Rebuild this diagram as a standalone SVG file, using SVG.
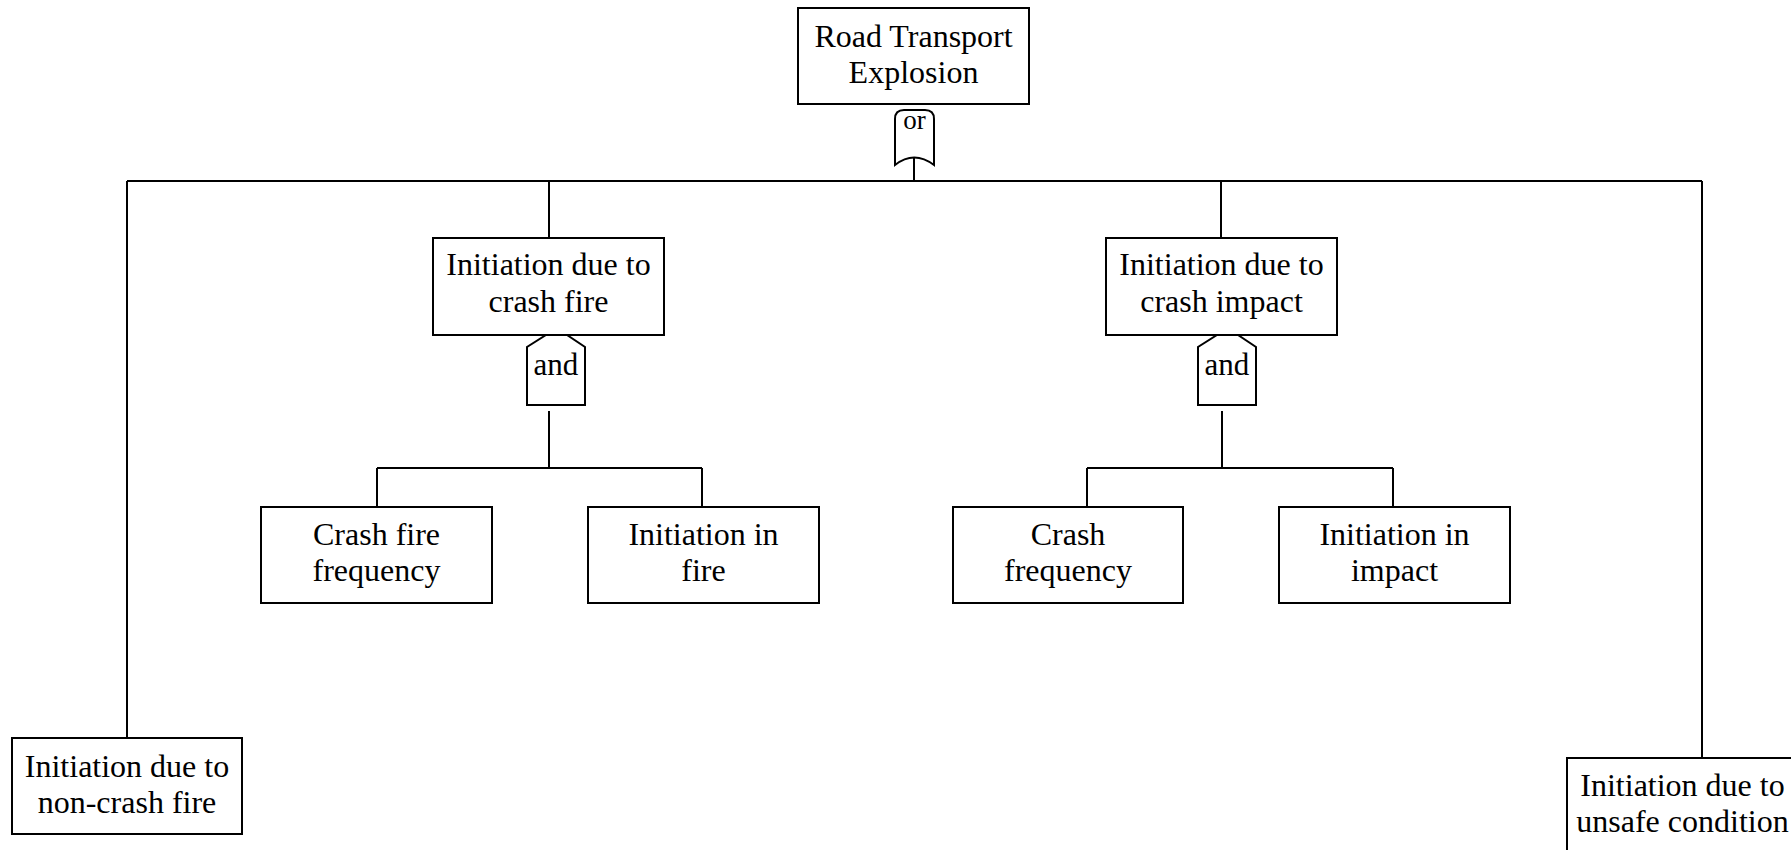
<svg xmlns="http://www.w3.org/2000/svg" width="1791" height="850" viewBox="0 0 1791 850">
<style>
.box{fill:#fff;stroke:#000;stroke-width:2}
.gate{fill:#fff;stroke:#000;stroke-width:2;stroke-linejoin:miter}
.ln{fill:none;stroke:#000;stroke-width:2}
text{font-family:"Liberation Serif","Times New Roman",serif;font-size:32px;fill:#000;text-anchor:middle}
.g{font-size:31px}
.o{font-size:27px}
</style>
<rect width="1791" height="850" fill="#fff"/>
<g id="connectors">
<path class="ln" d="M914,158 V181 M127,181 H1702 M127,181 V738 M1702,181 V758 M549,181 V238 M1221,181 V238"/>
<path class="ln" d="M549,411 V468 M377,468 H702 M377,468 V507 M702,468 V507"/>
<path class="ln" d="M1222,411 V468 M1087,468 H1393 M1087,468 V507 M1393,468 V507"/>
</g>
<g id="top">
<rect class="box" x="798" y="8" width="231" height="96"/>
<text x="913.5" y="47">Road Transport</text>
<text x="913.5" y="83">Explosion</text>
</g>
<g id="gate-or">
<path class="gate" d="M895,165 V119 Q895,110 904,110 H925 Q934,110 934,119 V165 Q914,150 895,165 Z"/>
<text class="o" x="914.5" y="129">or</text>
</g>
<g id="crash-fire">
<rect class="box" x="433" y="238" width="231" height="97"/>
<text x="548.5" y="275">Initiation due to</text>
<text x="548.5" y="312">crash fire</text>
</g>
<g id="gate-and-1">
<path class="gate" d="M546,335 H567 L585,347 V405 H527 V347 Z"/>
<text class="g" x="556" y="375">and</text>
</g>
<g id="crash-impact">
<rect class="box" x="1106" y="238" width="231" height="97"/>
<text x="1221.5" y="275">Initiation due to</text>
<text x="1221.5" y="312">crash impact</text>
</g>
<g id="gate-and-2">
<path class="gate" d="M1217,335 H1238 L1256,347 V405 H1198 V347 Z"/>
<text class="g" x="1227" y="375">and</text>
</g>
<g id="crash-fire-frequency">
<rect class="box" x="261" y="507" width="231" height="96"/>
<text x="376.5" y="545">Crash fire</text>
<text x="376.5" y="581">frequency</text>
</g>
<g id="initiation-in-fire">
<rect class="box" x="588" y="507" width="231" height="96"/>
<text x="703.5" y="545">Initiation in</text>
<text x="703.5" y="581">fire</text>
</g>
<g id="crash-frequency">
<rect class="box" x="953" y="507" width="230" height="96"/>
<text x="1068" y="545">Crash</text>
<text x="1068" y="581">frequency</text>
</g>
<g id="initiation-in-impact">
<rect class="box" x="1279" y="507" width="231" height="96"/>
<text x="1394.5" y="545">Initiation in</text>
<text x="1394.5" y="581">impact</text>
</g>
<g id="non-crash-fire">
<rect class="box" x="12" y="738" width="230" height="96"/>
<text x="127" y="777">Initiation due to</text>
<text x="127" y="813">non-crash fire</text>
</g>
<g id="unsafe-condition">
<rect class="box" x="1567" y="758" width="231" height="96"/>
<text x="1682.5" y="796">Initiation due to</text>
<text x="1682.5" y="832">unsafe condition</text>
</g>
</svg>
